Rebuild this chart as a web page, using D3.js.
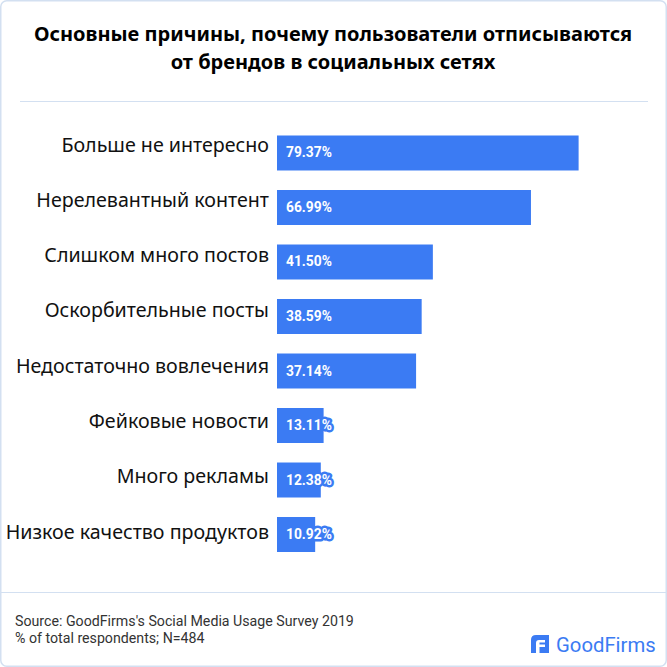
<!DOCTYPE html>
<html lang="ru">
<head>
<meta charset="utf-8">
<title>GoodFirms chart</title>
<script src="https://d3js.org/d3.v7.js"></script>
<style>
  html, body { margin: 0; padding: 0; background: #fff; }
  svg { display: block; }
</style>
</head>
<body>
<script>
var titleLines = ["Основные причины, почему пользователи отписываются", "от брендов в социальных сетях"];
var categories = ["Больше не интересно", "Нерелевантный контент", "Слишком много постов", "Оскорбительные посты", "Недостаточно вовлечения", "Фейковые новости", "Много рекламы", "Низкое качество продуктов"];
var values = [79.37, 66.99, 41.50, 38.59, 37.14, 13.11, 12.38, 10.92];
var sourceLines = ["Source: GoodFirms's Social Media Usage Survey 2019", "% of total respondents; N=484"];

var svg = d3.select("body").append("svg")
  .attr("width", 667)
  .attr("height", 667);

// card border
svg.append("rect")
  .attr("x", 0.75).attr("y", 0.75)
  .attr("width", 665.5).attr("height", 665.5)
  .attr("rx", 6)
  .attr("fill", "#fff")
  .attr("stroke", "#d3e0f1")
  .attr("stroke-width", 1.5);

svg.selectAll("text.title")
  .data(titleLines)
  .enter().append("text")
  .attr("class", "title")
  .attr("x", 333)
  .attr("y", (d, i) => 41 + i * 28)
  .attr("text-anchor", "middle")
  .attr("font-family", "Noto Sans")
  .attr("font-size", "20px")
  .attr("font-weight", "bold")
  .attr("fill", "#000")
  .text(d => d);

// rules
svg.append("line").attr("x1", 20).attr("x2", 648).attr("y1", 101.5).attr("y2", 101.5)
  .attr("stroke", "#d3e0f1");
svg.append("line").attr("x1", 1).attr("x2", 666).attr("y1", 592.5).attr("y2", 592.5)
  .attr("stroke", "#d3e0f1");

// the source's bars start a little above zero
var x = d3.scaleLinear().domain([1, 100]).range([277, 658]);
var y = d3.scaleBand().domain(categories).range([135.5, 552]).paddingInner(0.358).paddingOuter(0);
var labelY = d3.scalePoint().domain(categories).range([151.5, 538.5]);

svg.append("g")
  .selectAll("rect")
  .data(values)
  .enter().append("rect")
  .attr("x", x(1))
  .attr("y", (d, i) => y(categories[i]))
  .attr("width", d => x(d) - x(1))
  .attr("height", y.bandwidth())
  .attr("fill", "#3b7bf3");

svg.append("g")
  .selectAll("text")
  .data(categories)
  .enter().append("text")
  .attr("x", 269)
  .attr("y", d => labelY(d))
  .attr("text-anchor", "end")
  .attr("font-family", "Noto Sans")
  .attr("font-size", "19.65px")
  .attr("fill", "#111")
  .text(d => d);

svg.append("g")
  .selectAll("text")
  .data(values)
  .enter().append("text")
  .attr("x", 286)
  .attr("y", (d, i) => y(categories[i]) + y.bandwidth() / 2 + 4.5)
  .attr("font-family", "Roboto")
  .attr("font-size", "13.8px")
  .attr("font-weight", "bold")
  .attr("fill", "#fff")
  .attr("stroke", "#3b7bf3")
  .attr("stroke-width", 5)
  .attr("stroke-linejoin", "round")
  .attr("paint-order", "stroke")
  .text(d => d.toFixed(2) + "%");

svg.selectAll("text.source")
  .data(sourceLines)
  .enter().append("text")
  .attr("class", "source")
  .attr("x", 15)
  .attr("y", (d, i) => 626 + i * 17)
  .attr("font-family", "Roboto")
  .attr("font-size", "14.2px")
  .attr("fill", "#333")
  .text(d => d);

// logo
var logo = svg.append("g").attr("transform", "translate(531,635)");
logo.append("path")
  .attr("d", "M5 0H18V18H0V5Q0 0 5 0Z")
  .attr("fill", "#3b7bf3");
logo.append("path")
  .attr("d", "M14 5H8Q5 5 5 8V18H8.5V12H14V9.5H8.5V7.5H14Z")
  .attr("fill", "#fff");
svg.append("text")
  .attr("x", 556)
  .attr("y", 652)
  .attr("font-family", "Roboto")
  .attr("font-size", "20.3px")
  .attr("fill", "#3b7bf3")
  .text("GoodFirms");
</script>
</body>
</html>
